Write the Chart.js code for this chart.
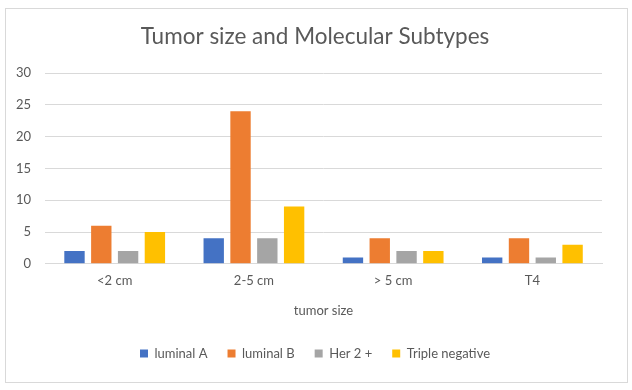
<!DOCTYPE html>
<html><head><meta charset="utf-8">
<script src="https://cdn.jsdelivr.net/npm/chart.js@4/dist/chart.umd.min.js"></script>
<style>
html,body{margin:0;padding:0;background:#fff;}
#wrap{position:absolute;left:0;top:0;width:632px;height:390px;}
</style></head>
<body><div id="wrap"><canvas id="c" width="632" height="390"></canvas></div>
<script>
const categories = ["<2 cm", "2-5 cm", "> 5 cm", "T4"];
const luminalA = [2, 4, 1, 1];
const luminalB = [6, 24, 4, 4];
const her2 = [2, 4, 2, 1];
const tripleNeg = [5, 9, 2, 3];
const seriesNames = ["luminal A", "luminal B", "Her 2 +", "Triple negative"];
const colors = ["#4472C4", "#ED7D31", "#A5A5A5", "#FFC000"];
const font = "Lato, 'Open Sans', sans-serif";
const txt = "#595959";

const framePlugin = {
  id: 'frame',
  afterLayout(chart) {
    // centre title and legend on the whole frame, as in the reference
    const shift = 13;
    for (const b of [chart.titleBlock, chart.legend]) {
      if (b) { b.left += shift; b.right += shift; }
    }
  },
  beforeDraw(chart) {
    const ctx = chart.ctx;
    ctx.save();
    ctx.fillStyle = '#fff';
    ctx.fillRect(0, 0, chart.width, chart.height);
    ctx.strokeStyle = '#d9d9d9';
    ctx.lineWidth = 1;
    ctx.strokeRect(5.5, 8.5, 622, 374);
    ctx.restore();
  }
};

const data = {
  labels: categories,
  datasets: [luminalA, luminalB, her2, tripleNeg].map((d, i) => ({
    label: seriesNames[i],
    data: d,
    backgroundColor: colors[i],
    borderWidth: 0,
    categoryPercentage: 0.77,
    barPercentage: 0.76
  }))
};

new Chart(document.getElementById('c'), {
  type: 'bar',
  data,
  plugins: [framePlugin],
  options: {
    responsive: false,
    animation: false,
    devicePixelRatio: 1,
    layout: { padding: { top: 23, left: 2, right: 30, bottom: 20 } },
    plugins: {
      title: {
        display: true,
        text: "Tumor size and Molecular Subtypes",
        color: txt,
        font: { family: font, size: 22.5, weight: 'normal' },
        padding: { top: 0, bottom: 23 }
      },
      legend: {
        position: 'bottom',
        labels: {
          color: txt,
          font: { family: font, size: 13 },
          boxWidth: 8, boxHeight: 8,
          padding: 20
        }
      },
      tooltip: { enabled: false }
    },
    scales: {
      x: {
        grid: { display: false, drawTicks: false },
        border: { color: '#d9d9d9' },
        ticks: { color: txt, font: { family: font, size: 13 }, padding: 9 },
        title: { display: true, text: 'tumor size', color: txt, font: { family: font, size: 13 }, padding: { top: 6, bottom: 8 } }
      },
      y: {
        min: 0, max: 30,
        ticks: { stepSize: 5, color: txt, font: { family: font, size: 13 }, padding: 14 },
        grid: { color: '#d9d9d9', drawTicks: false },
        border: { display: false }
      }
    }
  }
});
</script></body></html>
